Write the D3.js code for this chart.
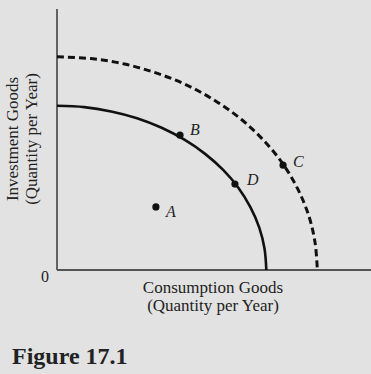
<!DOCTYPE html>
<html>
<head>
<meta charset="utf-8">
<script src="https://cdn.jsdelivr.net/npm/d3@7"></script>
<style>
  html, body { margin: 0; padding: 0; background: #e2e2e2; }
  svg { display: block; }
  text { font-family: "Liberation Serif", "DejaVu Serif", serif; fill: #222; }
</style>
</head>
<body>
<svg width="371" height="374"></svg>
<script>
// frontier points (consumption, investment)
var ppfX = [0, 1.04, 2.07, 3.06, 4, 4.87, 5.66, 6.35, 6.93, 7.39, 7.73, 7.93, 8];
var ppfY = [7.55, 7.49, 7.29, 6.98, 6.54, 5.99, 5.34, 4.6, 3.78, 2.89, 1.95, 0.99, 0];
var newPpfX = [0, 1.3, 2.58, 3.81, 4.98, 6.06, 7.04, 7.89, 8.62, 9.19, 9.61, 9.86, 9.95];
var newPpfY = [9.8, 9.72, 9.47, 9.05, 8.49, 7.77, 6.93, 5.97, 4.9, 3.75, 2.54, 1.28, 0];

// labelled points
var pointNames = ["A", "B", "C", "D"];
var pointX = [3.78, 4.7, 8.64, 6.8];
var pointY = [2.9, 6.2, 4.82, 3.95];

var svg = d3.select("svg");

var x = d3.scaleLinear().domain([0, 12]).range([57, 371]);
var y = d3.scaleLinear().domain([0, 12]).range([270, 9]);

var line = d3.line()
    .x(function(d) { return x(d[0]); })
    .y(function(d) { return y(d[1]); })
    .curve(d3.curveCatmullRom.alpha(0.5));

// axes
svg.append("line")
    .attr("x1", x(0)).attr("x2", x(0))
    .attr("y1", y(12)).attr("y2", y(0))
    .attr("stroke", "#555").attr("stroke-width", 1.8);
svg.append("line")
    .attr("x1", x(0)).attr("x2", x(12))
    .attr("y1", y(0)).attr("y2", y(0))
    .attr("stroke", "#555").attr("stroke-width", 1.8);

svg.append("text")
    .attr("x", 45).attr("y", 282)
    .attr("text-anchor", "middle")
    .style("font-size", "16px")
    .text("0");

// curves
svg.append("path")
    .datum(d3.zip(newPpfX, newPpfY))
    .attr("fill", "none")
    .attr("stroke", "#111")
    .attr("stroke-width", 3)
    .attr("stroke-dasharray", "7,4")
    .attr("d", line);

svg.append("path")
    .datum(d3.zip(ppfX, ppfY))
    .attr("fill", "none")
    .attr("stroke", "#111")
    .attr("stroke-width", 2.6)
    .attr("d", line);

// points
var labelDx = [10, 10, 10, 12];
var labelDy = [10, 0, 2, 1];
var pts = svg.selectAll("g.pt")
    .data(pointNames)
    .enter().append("g").attr("class", "pt");
pts.append("circle")
    .attr("cx", function(d, i) { return x(pointX[i]); })
    .attr("cy", function(d, i) { return y(pointY[i]); })
    .attr("r", 3.6)
    .attr("fill", "#111");
pts.append("text")
    .attr("x", function(d, i) { return x(pointX[i]) + labelDx[i]; })
    .attr("y", function(d, i) { return y(pointY[i]) + labelDy[i]; })
    .style("font-size", "16px")
    .style("font-style", "italic")
    .text(function(d) { return d; });

// axis titles
var xt = svg.append("text")
    .attr("text-anchor", "middle")
    .style("font-size", "17px");
xt.append("tspan").attr("x", 213).attr("y", 293).text("Consumption Goods");
xt.append("tspan").attr("x", 213).attr("y", 311).text("(Quantity per Year)");

var yt = svg.append("text")
    .attr("transform", "translate(0,139) rotate(-90)")
    .attr("text-anchor", "middle")
    .style("font-size", "17px");
yt.append("tspan").attr("x", 0).attr("y", 18).text("Investment Goods");
yt.append("tspan").attr("x", 0).attr("y", 37).text("(Quantity per Year)");

svg.append("text")
    .attr("x", 12).attr("y", 364)
    .style("font-size", "24px")
    .style("font-weight", "bold")
    .text("Figure 17.1");
</script>
</body>
</html>
